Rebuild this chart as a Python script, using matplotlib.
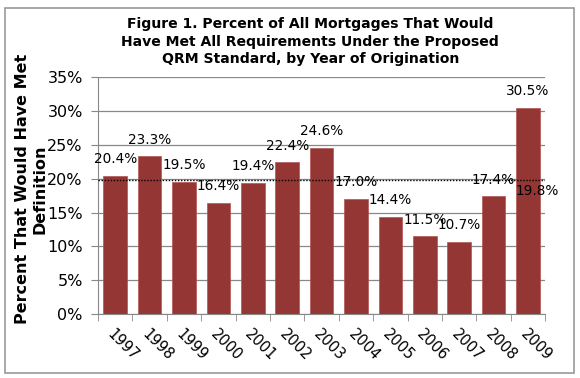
import matplotlib
matplotlib.use("Agg")
import matplotlib.pyplot as plt
from matplotlib.patches import Rectangle
from matplotlib.ticker import FuncFormatter, MultipleLocator

years = ["1997", "1998", "1999", "2000", "2001", "2002", "2003",
         "2004", "2005", "2006", "2007", "2008", "2009"]
pct = [20.4, 23.3, 19.5, 16.4, 19.4, 22.4, 24.6, 17.0, 14.4, 11.5, 10.7, 17.4, 30.5]
average = 19.8

plt.rcParams['font.family'] = ['DejaVu Sans']

fig = plt.figure(figsize=(5.8, 3.78), dpi=100)
ax = fig.add_axes([0.169, 0.169, 0.771, 0.627])

# outer frame like the Excel chart area
fig.patches.append(Rectangle((0.009, 0.013), 0.98, 0.965, transform=fig.transFigure,
                             fill=False, edgecolor='#999999', linewidth=1.2))

x = range(len(years))
ax.bar(x, pct, width=0.69, color='#943634', edgecolor='#b25553', linewidth=0.5, zorder=2)
ax.axhline(average, color='black', linestyle=(0, (1, 1.2)), linewidth=1.0, zorder=3)

# data labels
for i, v in enumerate(pct):
    ax.annotate(f"{v:.1f}%", (i, v), xytext=(0, 7), textcoords='offset points',
                ha='center', va='bottom', fontsize=9.8, zorder=4)
ax.annotate(f"{average:.1f}%", (len(years) - 1, average), xytext=(6.5, -3),
            textcoords='offset points', ha='center', va='top', fontsize=9.8, zorder=4)

ax.set_xlim(-0.5, len(years) - 0.5)
ax.set_ylim(0, 35)
ax.yaxis.set_major_locator(MultipleLocator(5))
ax.yaxis.set_major_formatter(FuncFormatter(lambda v, p: f"{v:.0f}%"))
ax.grid(axis='y', color='#888888', linewidth=0.9, zorder=0)
ax.set_axisbelow(True)

ax.set_xticks(list(x))
ax.set_xticklabels(years, rotation=-45, ha='left', va='top', rotation_mode='anchor', fontsize=10.5)
ax.tick_params(axis='x', length=0, pad=9)
ax.set_xticks([i - 0.5 for i in range(len(years) + 1)], minor=True)
ax.tick_params(axis='x', which='minor', length=5, color='#888888')
ax.tick_params(axis='y', labelsize=11.5, length=5, color='#888888', pad=6)

for s in ['top', 'right']:
    ax.spines[s].set_visible(False)
ax.spines['left'].set_color('#888888')
ax.spines['bottom'].set_color('#888888')

fig.text(0.535, 0.89, "Figure 1. Percent of All Mortgages That Would\n"
         "Have Met All Requirements Under the Proposed\n"
         "QRM Standard, by Year of Origination",
         ha='center', va='center', fontsize=10.1, fontweight='bold', linespacing=1.35)

fig.text(0.054, 0.5, "Percent That Would Have Met\nDefinition", rotation=90,
         ha='center', va='center', fontsize=11.5, fontweight='bold', linespacing=1.15)

fig.savefig("out.png", dpi=100)
